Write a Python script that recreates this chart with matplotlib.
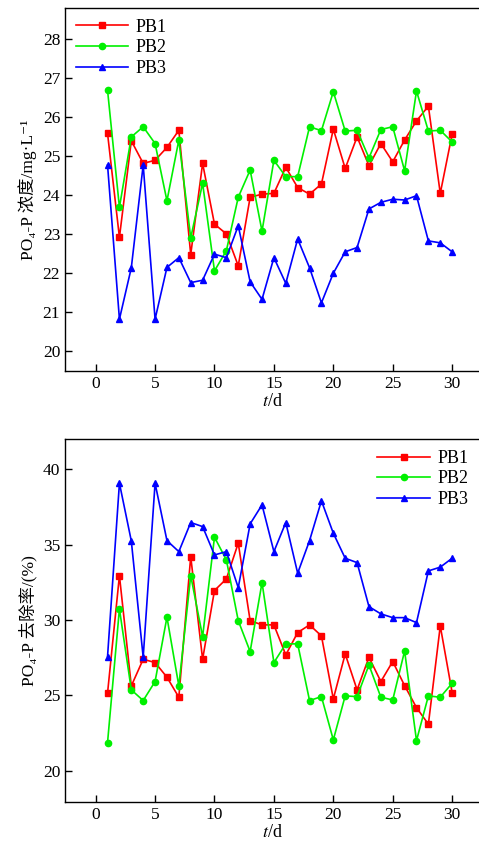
import matplotlib
matplotlib.use('Agg')
import matplotlib.pyplot as plt

plt.rcParams['font.family'] = ['Liberation Serif', 'DejaVu Serif', 'Noto Sans CJK SC']
plt.rcParams['mathtext.fontset'] = 'stix'

days = list(range(1, 31))

# 浓度 (mg/L)
conc_pb1 = [25.58, 22.91, 25.39, 24.81, 24.89, 25.22, 25.66, 22.47, 24.81, 23.25,
            23.00, 22.18, 23.94, 24.02, 24.04, 24.71, 24.19, 24.02, 24.28, 25.69,
            24.68, 25.49, 24.75, 25.32, 24.85, 25.41, 25.90, 26.28, 24.04, 25.56]
conc_pb2 = [26.69, 23.68, 25.49, 25.75, 25.32, 23.85, 25.41, 22.90, 24.30, 22.05,
            22.57, 23.94, 24.64, 23.07, 24.89, 24.47, 24.47, 25.75, 25.65, 26.65,
            25.64, 25.66, 24.95, 25.68, 25.75, 24.62, 26.67, 25.64, 25.66, 25.36]
conc_pb3 = [24.77, 20.81, 22.13, 24.77, 20.81, 22.14, 22.39, 21.75, 21.81, 22.48,
            22.39, 23.21, 21.77, 21.32, 22.39, 21.73, 22.87, 22.13, 21.23, 21.99,
            22.54, 22.65, 23.64, 23.81, 23.89, 23.87, 23.98, 22.82, 22.77, 22.54]

# 去除率 (%)
rem_pb1 = [25.14, 32.94, 25.62, 27.39, 27.17, 26.20, 24.87, 34.20, 27.39, 31.95,
           32.72, 35.09, 29.95, 29.67, 29.67, 27.68, 29.16, 29.67, 28.94, 24.76,
           27.74, 25.36, 27.52, 25.91, 27.24, 25.64, 24.18, 23.08, 29.60, 25.18]
rem_pb2 = [21.86, 30.73, 25.36, 24.65, 25.91, 30.18, 25.62, 32.94, 28.89, 35.49,
           33.98, 29.95, 27.90, 32.48, 27.17, 28.41, 28.41, 24.65, 24.91, 22.04,
           24.96, 24.91, 27.01, 24.87, 24.69, 27.94, 21.99, 24.96, 24.87, 25.80]
rem_pb3 = [27.57, 39.07, 35.24, 27.52, 39.07, 35.26, 34.53, 36.46, 36.19, 34.31,
           34.53, 32.14, 36.37, 37.63, 34.53, 36.46, 33.10, 35.26, 37.90, 35.75,
           34.09, 33.80, 30.88, 30.40, 30.15, 30.15, 29.82, 33.25, 33.50, 34.09]

labels = ['PB1', 'PB2', 'PB3']
colors = ['#ff0000', '#00f000', '#0000ff']
markers = ['s', 'o', '^']

fig = plt.figure(figsize=(4.79, 8.48), dpi=100)
ax1 = fig.add_axes([0.1357, 0.5625, 0.8643, 0.4281])
ax2 = fig.add_axes([0.1357, 0.0546, 0.8643, 0.4277])


def draw(ax, series, ylim, yticks, ylabel, legend_loc):
    for ys, lab, c, m in zip(series, labels, colors, markers):
        ax.plot(days, ys, color=c, marker=m, markersize=4.5, linewidth=1.2,
                label=lab)
    ax.set_xlim(-2.58, 32.26)
    ax.set_ylim(*ylim)
    ax.set_xticks(range(0, 31, 5))
    ax.set_yticks(yticks)
    ax.tick_params(direction='in', length=5, width=1, labelsize=12.5)
    ax.spines['right'].set_visible(False)
    for s in ['left', 'bottom', 'top']:
        ax.spines[s].set_linewidth(1.0)
    ax.set_xlabel('$t$/d', fontsize=13, labelpad=1)
    ax.set_ylabel(ylabel, fontsize=12.5, labelpad=4)
    ax.legend(loc=legend_loc, frameon=False, fontsize=13, handlelength=2.9,
              handletextpad=0.4, labelspacing=0.2, borderaxespad=0.2)


draw(ax1, [conc_pb1, conc_pb2, conc_pb3], (19.48, 28.8), range(20, 29),
     'PO₄-P 浓度/mg·L⁻¹', 'upper left')
draw(ax2, [rem_pb1, rem_pb2, rem_pb3], (17.94, 42.0), range(20, 41, 5),
     'PO₄-P 去除率/(%)', 'upper right')

fig.savefig('out.png', dpi=100)
